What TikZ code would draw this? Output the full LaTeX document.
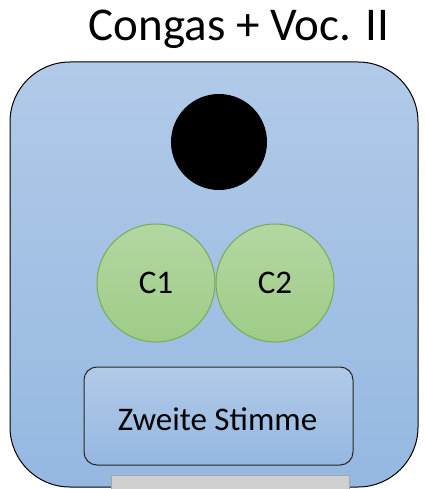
\documentclass[tikz,border=0pt]{standalone}
\usepackage{fontspec}
\setmainfont{Carlito}
\definecolor{bluetop}{RGB}{177,202,232}
\definecolor{bluebot}{RGB}{149,184,225}
\definecolor{greentop}{RGB}{180,215,162}
\definecolor{greenbot}{RGB}{158,204,134}
\definecolor{greenline}{RGB}{117,173,82}
\definecolor{grayfill}{RGB}{208,208,208}
\definecolor{grayline}{RGB}{166,166,166}
\tikzset{
  outerbox/.style={draw=black, line width=1pt, rounded corners=60pt, top color=bluetop, bottom color=bluebot},
  voicebox/.style={draw=black!85, line width=1pt, rounded corners=13pt, top color=bluetop, bottom color=bluebot, minimum width=269pt, minimum height=98pt, inner sep=0pt},
  conga/.style={circle, draw=greenline, line width=1pt, top color=greentop, bottom color=greenbot, minimum size=118pt, inner sep=0pt, font=\fontsize{33}{38}\selectfont},
  lbl/.style={inner sep=0pt, anchor=base, font=\fontsize{33}{38}\selectfont}
}
\begin{document}
\begin{tikzpicture}[x=1pt,y=-1pt]
\useasboundingbox (0,0) rectangle (424,489);
\path[outerbox] (10,62) rectangle (418,487);
\node[circle, fill=black, minimum size=96pt, inner sep=0pt] (head) at (219,142) {};
\node[conga] (c1) at (156,283) {C1};
\node[conga] (c2) at (275,283) {C2};
\node[voicebox] (voice) at (218.5,416) {};
\node[lbl] (stimme) at (217.5,430) {Zweite Stimme};
\path[draw=grayline, fill=grayfill, line width=1pt] (111,475) rectangle (349,495);
\node[inner sep=0pt, font=\fontsize{47}{52}\selectfont, anchor=base] (title) at (239,41) {Congas + Voc. II};
\end{tikzpicture}
\end{document}
